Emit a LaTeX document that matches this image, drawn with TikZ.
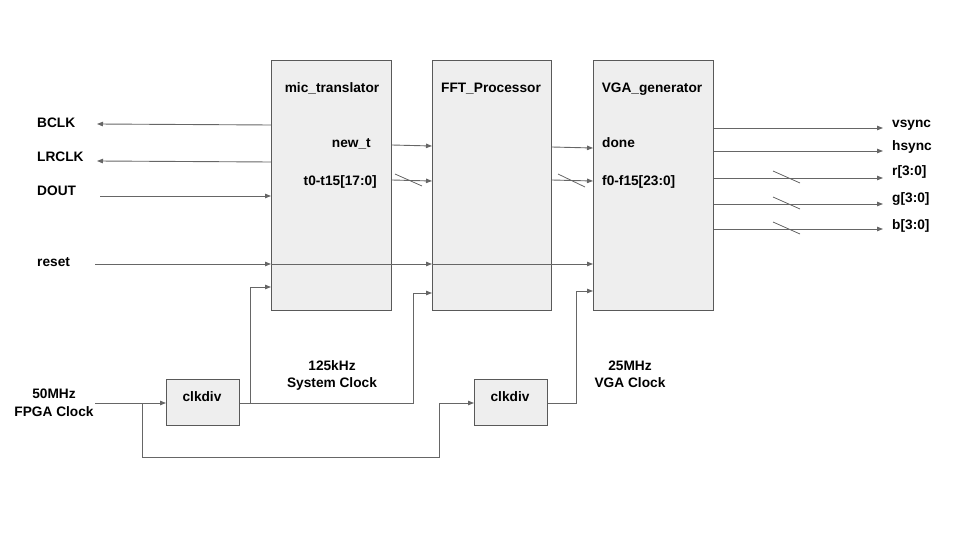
\documentclass[tikz,border=0pt]{standalone}
\usepackage{fontspec}
\setmainfont{Liberation Sans}
\usetikzlibrary{arrows.meta,calc}
\definecolor{boxline}{HTML}{595959}
\definecolor{boxfill}{HTML}{EEEEEE}
\definecolor{wireline}{HTML}{666666}
\begin{document}
\begin{tikzpicture}[x=1pt,y=-1pt,
  font=\bfseries\fontsize{13.7}{16}\selectfont,
  block/.style={draw=boxline, fill=boxfill, line width=0.9pt, anchor=north west, inner sep=0pt},
  wire/.style={draw=wireline, line width=0.9pt},
  arr/.style={wire, -{Triangle[length=6pt,width=4.5pt]}},
  lbl/.style={inner sep=0pt, text=black, text height=9.8pt, text depth=0pt},
  lbll/.style={lbl, anchor=west},
  lblr/.style={lbl, anchor=east},
  slash/.style={draw=wireline, line width=0.8pt}]
\useasboundingbox (0,0) rectangle (960,540);

% main blocks
\node[block, minimum width=120pt, minimum height=250pt] (mic) at (271,60) {};
\node[block, minimum width=119pt, minimum height=250pt] (fft) at (432,60) {};
\node[block, minimum width=120pt, minimum height=250pt] (vga) at (593,60) {};
\node[lbl] (micT) at (332,88) {mic\_translator};
\node[lbl] (fftT) at (491,88) {FFT\_Processor};
\node[lbl] (vgaT) at (652,88) {VGA\_generator};

% port labels
\node[lblr] (newt) at (371,143) {new\_t};
\node[lblr] (tbus) at (377,181) {t0-t15[17:0]};
\node[lbll] (done) at (602,143) {done};
\node[lbll] (fbus) at (602,181) {f0-f15[23:0]};

% left signals
\node[lbll] (bclk) at (37,123) {BCLK};
\node[lbll] (lrclk) at (37,157) {LRCLK};
\node[lbll] (dout) at (37,191) {DOUT};
\node[lbll] (reset) at (37,262) {reset};
\coordinate (bclkE) at (97,124);
\coordinate (lrclkE) at (97,161);
\coordinate (doutS) at (100,196);
\coordinate (resetS) at (95,264);
\draw[arr] (mic.west |- 0,125) -- (bclkE);
\draw[arr] (mic.west |- 0,162) -- (lrclkE);
\draw[arr] (doutS) -- (mic.west |- doutS);
\draw[arr] (resetS) -- (mic.west |- resetS);
\draw[arr] (mic.east |- resetS) -- (fft.west |- resetS);
\draw[arr] (fft.east |- resetS) -- (vga.west |- resetS);
\draw[wire] (mic.west |- resetS) -- (mic.east |- resetS);
\draw[wire] (fft.west |- resetS) -- (fft.east |- resetS);

% inter-block signals
\draw[arr] (mic.east |- 0,145) -- (fft.west |- 0,146);
\draw[arr] (mic.east |- 0,180) -- (fft.west |- 0,181);
\draw[slash] (395,174) -- (422,186);
\draw[arr] (fft.east |- 0,147) -- (vga.west |- 0,148);
\draw[arr] (fft.east |- 0,180) -- (vga.west |- 0,181);
\draw[slash] (558,174) -- (585,187);

% right outputs
\node[lbll] (vsync) at (892,123) {vsync};
\node[lbll] (hsync) at (892,146) {hsync};
\node[lbll] (rout) at (892,171) {r[3:0]};
\node[lbll] (gout) at (892,198) {g[3:0]};
\node[lbll] (bout) at (892,225) {b[3:0]};
\coordinate (vsyncE) at (883,128);
\coordinate (hsyncE) at (883,151);
\coordinate (rE) at (883,178);
\coordinate (gE) at (883,204);
\coordinate (bE) at (883,229);
\draw[arr] (vga.east |- vsyncE) -- (vsyncE);
\draw[arr] (vga.east |- hsyncE) -- (hsyncE);
\draw[arr] (vga.east |- rE) -- (rE);
\draw[arr] (vga.east |- gE) -- (gE);
\draw[arr] (vga.east |- bE) -- (bE);
\draw[slash] (773,171) -- (800,183);
\draw[slash] (773,197) -- (800,209);
\draw[slash] (773,222) -- (800,234);

% clock section
\node[block, minimum width=73pt, minimum height=46pt] (div1) at (166,379) {};
\node[block, minimum width=73pt, minimum height=46pt] (div2) at (474,379) {};
\node[lbl] (div1T) at (202,397) {clkdiv};
\node[lbl] (div2T) at (510,397) {clkdiv};

\node[lbl] (fpga1) at (54,394) {50MHz};
\node[lbl] (fpga2) at (54,412) {FPGA Clock};
\node[lbl] (sys1) at (332,366) {125kHz};
\node[lbl] (sys2) at (332,383) {System Clock};
\node[lbl] (vgc1) at (630,366) {25MHz};
\node[lbl] (vgc2) at (630,383) {VGA Clock};

\coordinate (clkIn) at (95,403);
\draw[arr] (clkIn) -- (div1.west |- clkIn);
\draw[arr] (142,403) -- (142,457) -- (439,457) -- (439,403) -- (div2.west |- 0,403);
\draw[arr] (div1.east |- 0,403) -- (413,403) -- (413,293) -- (fft.west |- 0,293);
\draw[arr] (250,403) -- (250,287) -- (mic.west |- 0,287);
\draw[arr] (div2.east |- 0,403) -- (576,403) -- (576,291) -- (vga.west |- 0,291);
\end{tikzpicture}
\end{document}
